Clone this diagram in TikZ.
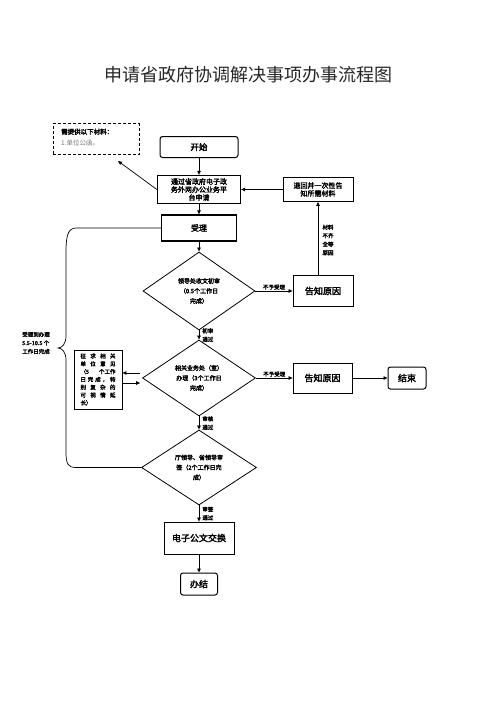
\documentclass[tikz,border=0pt]{standalone}
\usepackage{fontspec}
\setmainfont{Noto Sans CJK SC}[AutoFakeBold=2.6]
\usetikzlibrary{
  arrows.meta,
  shapes.geometric
}
\newcommand{\spreadrow}[1]{\makebox[35pt][s]{#1}}
\tikzset{
  % For ordinary process boxes.
  process/.style={
    draw,
    line width=0.8pt,
    inner sep=1pt,
    align=center,
    font=\fontsize{7}{8}\selectfont\bfseries},
%
  % For the boxes drawn with a heavier frame.
  heavy process/.style={
    process,
    line width=1.3pt},
%
  % For start and end boxes.
  terminal/.style={
    process,
    rounded corners=2.5pt,
    line width=1pt,
    font=\fontsize{8.5}{9}\selectfont\bfseries},
%
  % For checks.
  decision/.style={
    draw,
    diamond,
    line width=0.8pt,
    inner sep=0pt,
    align=center,
    font=\fontsize{6}{10}\selectfont\bfseries},
%
  % For small labels beside the connectors.
  remark/.style={
    font=\fontsize{5.5}{8.5}\selectfont\bfseries,
    align=left,
    inner sep=1pt},
%
  % For connectors.
  flow/.style={
    -{Triangle[length=4pt,width=3.5pt]},
    line width=0.7pt},
}

\begin{document}
\begin{tikzpicture}[x=1pt,y=-1pt]
  \useasboundingbox (0,0) rectangle (496,702);

  \node[font=\fontsize{18}{20}\selectfont, text=black!85] (title) at (248,75)
    {申请省政府协调解决事项办事流程图};

  \node[draw, dash pattern=on 3pt off 2pt, line width=0.8pt,
        minimum width=86pt, minimum height=31pt, inner sep=0pt] (need) at (96,139) {};
  \node[remark, font=\fontsize{6.5}{11}\selectfont, anchor=north west] (needtext) at (60,127.5)
    {{\bfseries 需提供以下材料：}\\{\color{black!55}1.单位公函。}};
  \coordinate (needtip) at (118,161);

  \node[terminal, minimum width=78pt, minimum height=21pt] (start) at (199,147) {开始};
  \node[heavy process, minimum width=83pt, minimum height=28pt] (apply) at (199,189.5)
    {通过省政府电子政\\务外网办公业务平\\台申请};
  \node[process, minimum width=70pt, minimum height=24pt] (back) at (318,189.5)
    {退回并一次性告\\知所需材料};
  \node[heavy process, minimum width=75pt, minimum height=26pt,
        font=\fontsize{8}{9}\selectfont\bfseries] (accept) at (199,228) {受理};

  \node[decision, minimum width=112pt, minimum height=78pt] (check) at (199,291)
    {领导处收文初审\\（0.5个工作日\\完成）};
  \node[process, minimum width=60pt, minimum height=31pt,
        font=\fontsize{9}{10}\selectfont\bfseries] (tellA) at (323,291) {告知原因};

  \node[decision, minimum width=113pt, minimum height=76pt] (handle) at (199,378)
    {相关业务处（室）\\办理（3个工作日\\完成）};
  \node[process, minimum width=59pt, minimum height=30pt,
        font=\fontsize{9}{10}\selectfont\bfseries] (tellB) at (322.5,378) {告知原因};
  \node[terminal, minimum width=38pt, minimum height=22pt,
        font=\fontsize{9}{10}\selectfont\bfseries] (finish) at (407,378) {结束};
  \node[process, minimum width=48pt, minimum height=59pt,
        font=\fontsize{5.5}{7.8}\selectfont\bfseries, align=left] (consult) at (98,379.5)
    {\spreadrow{征 求 相 关}\\\spreadrow{单 位 意 见}\\\spreadrow{（5 个工作}\\
     \spreadrow{日 完 成 ， 特}\\\spreadrow{别 复 杂 的}\\\spreadrow{可 视 情 延}\\长）};

  \node[decision, minimum width=115pt, minimum height=75pt] (sign) at (199,467.5)
    {厅领导、省领导审\\签（2个工作日完\\成）};
  \node[process, minimum width=70pt, minimum height=32pt,
        font=\fontsize{9}{10}\selectfont\bfseries] (exch) at (199,538) {电子公文交换};
  \node[terminal, minimum width=37pt, minimum height=22pt,
        font=\fontsize{9}{10}\selectfont\bfseries] (done) at (199,584) {办结};

  \node[remark, align=left] (span) at (36,343) {受理到办理\\5.5-10.5 个\\工作日完成};
  \node[remark] (lack) at (328,240) {材料\\不齐\\全等\\原因};

  \draw[flow] (start) -- (apply);
  \draw[flow] (apply) -- (accept);
  \draw[flow] (accept) -- (check);
  \draw[flow] (apply.west) -- (needtip);
  \draw[flow] (back) -- (apply);
  \draw[flow] (back.south |- tellA.north) -- (back.south);

  \draw[flow] (check) -- (tellA)
    node[remark, midway, above] {不予受理};
  \draw[flow] (check) -- (handle)
    node[remark, midway, right, xshift=2pt] {初审\\通过};
  \draw[flow] (handle) -- (tellB)
    node[remark, midway, above] {不予受理};
  \draw[flow] (tellB) -- (finish);
  \draw[flow] ([xshift=-2pt,yshift=5pt]handle.west) -- ([yshift=5pt]handle.west -| consult.east);
  \draw[flow] ([yshift=-5pt]handle.west -| consult.east) -- ([xshift=-2pt,yshift=-5pt]handle.west);
  \draw[flow] (handle) -- (sign)
    node[remark, midway, right, xshift=2pt] {审核\\通过};
  \draw[flow] (sign) -- (exch)
    node[remark, midway, right, xshift=2pt] {审签\\通过};
  \draw[flow] (exch) -- (done);

  % brace from accept down to the leaders' check
  \draw[line width=0.7pt] (accept.west) -- (76,228)
    .. controls (68,228) and (66,236) .. (66,252) -- (66,336)
    .. controls (66,344) and (62,348) .. (58,348)
    .. controls (62,348) and (66,352) .. (66,360) -- (66,452)
    .. controls (66,464) and (68,467.5) .. (76,467.5) -- (sign.west);
\end{tikzpicture}
\end{document}
